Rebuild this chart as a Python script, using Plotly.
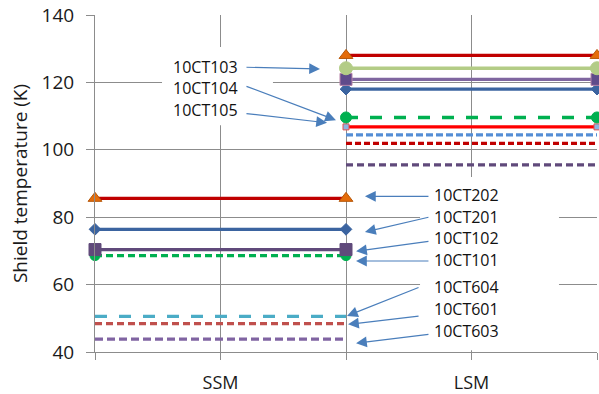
import plotly.graph_objects as go

# ---------------- data ----------------
categories = ["SSM", "LSM"]
tick_positions = [0, 1, 2, 3, 4]
tick_labels = ["", "SSM", "", "LSM", ""]
ssm_span = [0, 2]
lsm_span = [2, 4]

# listed in drawing order (bottom first)
ssm_names = ["10CT604", "10CT601", "10CT603", "10CT101", "10CT102", "10CT201", "10CT202"]
ssm_values = [50.6, 48.4, 43.8, 68.6, 70.4, 76.4, 85.6]

lsm_names = ["10CT603", "10CT601", "10CT604", "10CT105", "10CT104", "10CT201",
             "10CT102", "10CT103", "10CT202"]
lsm_values = [95.5, 101.9, 104.4, 106.8, 109.6, 118.0, 120.9, 124.2, 128.0]

y_ticks = [40, 60, 80, 100, 120, 140]

# ---------------- styles ----------------
ssm_styles = [
    dict(color="#4BACC6", width=3.3, dash="12px,12px", symbol=None),
    dict(color="#C0504D", width=3.3, dash="7px,4px", symbol=None),
    dict(color="#8064A2", width=3.3, dash="8px,4px", symbol=None),
    dict(color="#00B050", width=3.3, dash="7px,4px", symbol="circle", msize=10, mcolor="#00B050", mline="#00B050"),
    dict(color="#604A7B", width=3.3, dash="solid", symbol="square", msize=12, mcolor="#604A7B", mline="#604A7B"),
    dict(color="#3B64A0", width=3.3, dash="solid", symbol="diamond", msize=9, mcolor="#3B64A0", mline="#3B64A0"),
    dict(color="#C00000", width=3.3, dash="solid", symbol="triangle-up", msize=12, mcolor="#E46C0A", mline="#B65708"),
]
lsm_styles = [
    dict(color="#604A7B", width=3.3, dash="7px,4px", symbol=None),
    dict(color="#C00000", width=3.3, dash="6px,3px", symbol=None),
    dict(color="#558ED5", width=3.3, dash="7px,3px", symbol=None),
    dict(color="#FF0000", width=3.3, dash="solid", symbol="square", msize=6, mcolor="#8EB4E3", mline="#E05050"),
    dict(color="#00B050", width=3.5, dash="12px,12px", symbol="circle", msize=11, mcolor="#00B050", mline="#00B050"),
    dict(color="#3B64A0", width=3.3, dash="solid", symbol="diamond", msize=9, mcolor="#3B64A0", mline="#3B64A0"),
    dict(color="#7F66A0", width=3.3, dash="solid", symbol="square", msize=12, mcolor="#5F4B8B", mline="#B783A8"),
    dict(color="#B3CC86", width=3.3, dash="solid", symbol="circle", msize=13, mcolor="#B3CC86", mline="#B3CC86"),
    dict(color="#C00000", width=3.3, dash="solid", symbol="triangle-up", msize=12, mcolor="#E46C0A", mline="#B65708"),
]

fig = go.Figure()


def add_series(span, value, name, st):
    kw = dict(
        x=span, y=[value, value], name=name, showlegend=False, cliponaxis=False,
        line=dict(color=st["color"], width=st["width"], dash=st["dash"]),
    )
    if st.get("symbol"):
        kw["mode"] = "lines+markers"
        kw["marker"] = dict(symbol=st["symbol"], size=st["msize"], color=st["mcolor"],
                            line=dict(color=st["mline"], width=1))
    else:
        kw["mode"] = "lines"
    fig.add_trace(go.Scatter(**kw))


for v, n, st in zip(lsm_values, lsm_names, lsm_styles):
    add_series(lsm_span, v, n, st)
for v, n, st in zip(ssm_values, ssm_names, ssm_styles):
    add_series(ssm_span, v, n, st)

# white label boxes that hide the grid behind the labels
fig.add_shape(type="rect", xref="x", yref="y", x0=0.534, x1=1.418, y0=107.3, y1=130.5,
              fillcolor="white", line=dict(width=0), layer="between")
fig.add_shape(type="rect", xref="x", yref="y", x0=2.590, x1=3.697, y0=40.5, y1=91.9,
              fillcolor="white", line=dict(width=0), layer="between")

label_font = dict(family="Open Sans", size=16, color="#111111")

left_labels = [("10CT103", 124.6), ("10CT104", 118.2), ("10CT105", 111.8)]
for t, yy in left_labels:
    fig.add_annotation(x=0.880, y=yy, xref="x", yref="y", text=t, showarrow=False,
                       xanchor="center", yanchor="middle", font=label_font)

right_labels = [("10CT202", 86.5), ("10CT201", 80.1), ("10CT102", 73.7), ("10CT101", 67.2),
                ("10CT604", 59.3), ("10CT601", 52.9), ("10CT603", 46.2)]
for t, yy in right_labels:
    fig.add_annotation(x=2.683, y=yy, xref="x", yref="y", text=t, showarrow=False,
                       xanchor="left", yanchor="middle", font=label_font)

arrows = [
    ((1.195, 124.5), (1.793, 124.0)),
    ((1.195, 119.0), (1.920, 108.8)),
    ((1.195, 110.8), (1.849, 108.0)),
    ((2.669, 86.2), (2.151, 86.2)),
    ((2.669, 80.1), (2.151, 75.6)),
    ((2.669, 72.9), (2.080, 69.9)),
    ((2.669, 67.0), (2.080, 67.0)),
    ((2.590, 59.3), (2.008, 50.7)),
    ((2.590, 50.7), (2.016, 48.2)),
    ((2.669, 45.3), (2.080, 42.6)),
]
for (tx, ty), (hx, hy) in arrows:
    fig.add_annotation(x=hx, y=hy, ax=tx, ay=ty, xref="x", yref="y", axref="x", ayref="y",
                       text="", showarrow=True, arrowhead=2, arrowsize=1.8, arrowwidth=1.2,
                       arrowcolor="#4A7EBB", standoff=0, startstandoff=0)

grid = "#8C8C8C"
fig.update_layout(
    width=599, height=394,
    margin=dict(l=95, r=2, t=15, b=42, pad=0),
    paper_bgcolor="white", plot_bgcolor="white",
    font=dict(family="Open Sans", color="#1A1A1A"),
    xaxis=dict(range=[0, 4], tickmode="array", tickvals=tick_positions, ticktext=tick_labels,
               showgrid=True, gridcolor=grid, gridwidth=1, showline=True, linecolor=grid,
               linewidth=1, ticks="outside", ticklen=7, tickcolor=grid, zeroline=False,
               tickfont=dict(size=18, color="#1A1A1A"), ticklabelstandoff=7,
               automargin=False, fixedrange=True),
    yaxis=dict(range=[40, 140], tickmode="array", tickvals=y_ticks,
               showgrid=True, gridcolor=grid, gridwidth=1, showline=True, linecolor=grid,
               linewidth=1, ticks="outside", ticklen=8, tickcolor=grid, zeroline=False,
               tickfont=dict(size=19, color="#1A1A1A"), ticklabelstandoff=8,
               title=dict(text="Shield temperature (K)", font=dict(size=19, color="#1A1A1A"),
                          standoff=8),
               automargin=False, fixedrange=True),
)

fig.write_html("out.html", config={"displayModeBar": False},
               post_script="document.body.style.margin='0';")
